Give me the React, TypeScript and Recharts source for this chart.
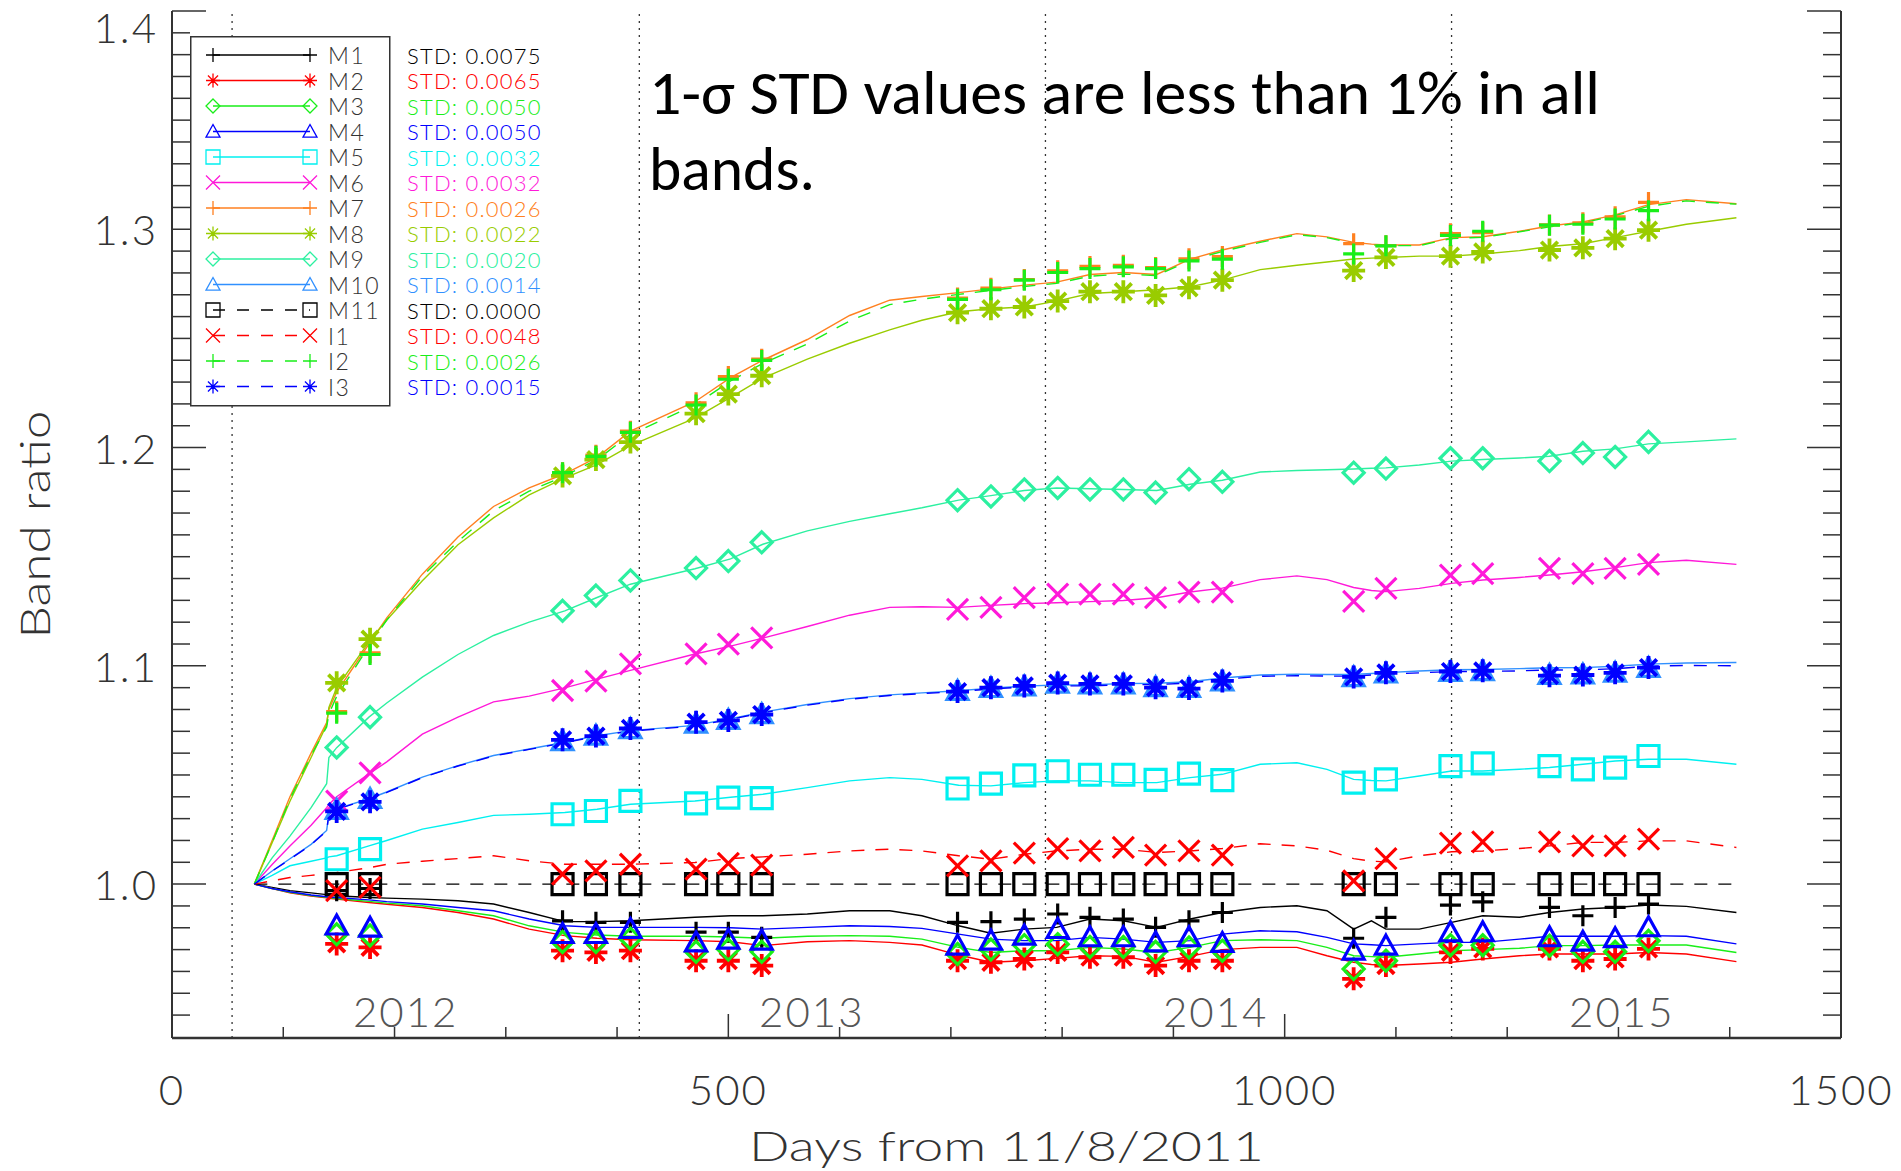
import React from 'react'
import {
  ComposedChart, Line, Scatter, XAxis, YAxis, ReferenceLine, Legend, Label,
} from 'recharts'

const W = 1901
const H = 1171

const FONT = "Lato, 'DejaVu Sans', sans-serif"
const INK = '#333333'

// days (from 11/8/2011) at which each band trend is sampled
const lineDays = [
  74, 90, 106, 125, 139, 141, 148,
  177, 193, 225, 257, 289, 321, 353,
  382, 412, 470, 502, 531, 571, 609,
  645, 674, 707, 736, 766, 795, 825,
  855, 885, 915, 944, 978, 1011, 1038,
  1062, 1078, 1091, 1121, 1150, 1178, 1211,
  1238, 1268, 1297, 1327, 1361, 1406,
]

const m1Line = [
  1.000, 0.9985, 0.997, 0.996, 0.9952, 0.995, 0.9947,
  0.9939, 0.9936, 0.9931, 0.9924, 0.9909, 0.987, 0.9828,
  0.9828, 0.9832, 0.9848, 0.9855, 0.9855, 0.9863, 0.9878,
  0.9878, 0.9855, 0.9809, 0.9775, 0.9794, 0.9802, 0.984,
  0.9832, 0.9802, 0.984, 0.987, 0.9893, 0.9901, 0.9878,
  0.9794, 0.9832, 0.9794, 0.9794, 0.9825, 0.9855, 0.9848,
  0.987, 0.9886, 0.9893, 0.9904, 0.9898, 0.987,
]
const m2Line = [
  1.000, 0.998, 0.996, 0.9945, 0.9937, 0.9935, 0.9931,
  0.9916, 0.9908, 0.9893, 0.987, 0.984, 0.9794, 0.9764,
  0.9752, 0.9745, 0.9741, 0.9736, 0.9718, 0.9736, 0.9741,
  0.9733, 0.9721, 0.9675, 0.9642, 0.9649, 0.966, 0.9672,
  0.9669, 0.9642, 0.9669, 0.970, 0.971, 0.971, 0.9672,
  0.9642, 0.9632, 0.9627, 0.9634, 0.9642, 0.9657, 0.9672,
  0.968, 0.968, 0.968, 0.9687, 0.968, 0.9645,
]
const m3Line = [
  1.000, 0.998, 0.9962, 0.9948, 0.994, 0.9938, 0.9934,
  0.9921, 0.9913, 0.9901, 0.9878, 0.9855, 0.9809, 0.9779,
  0.9767, 0.9761, 0.9761, 0.9758, 0.9752, 0.9761, 0.9764,
  0.9761, 0.9748, 0.971, 0.9687, 0.9695, 0.9695, 0.971,
  0.9703, 0.9687, 0.971, 0.9741, 0.9745, 0.9741, 0.971,
  0.9672, 0.9668, 0.9665, 0.968, 0.9695, 0.970, 0.9706,
  0.9718, 0.9718, 0.9721, 0.9721, 0.9721, 0.9687,
]
const m4Line = [
  1.000, 0.998, 0.9965, 0.995, 0.9942, 0.994, 0.9939,
  0.9928, 0.992, 0.9909, 0.9893, 0.9878, 0.984, 0.9809,
  0.9802, 0.9802, 0.9802, 0.980, 0.9794, 0.9802, 0.9809,
  0.9806, 0.9797, 0.9771, 0.9748, 0.9741, 0.9741, 0.9756,
  0.9748, 0.9733, 0.9741, 0.9771, 0.9786, 0.9782, 0.9756,
  0.9726, 0.9722, 0.9718, 0.9726, 0.9733, 0.9733, 0.9748,
  0.9761, 0.9761, 0.9761, 0.9764, 0.9761, 0.9726,
]
const m5Line = [
  1.000, 1.004, 1.0084, 1.0105, 1.012, 1.0125, 1.013,
  1.0175, 1.020, 1.0252, 1.0282, 1.0315, 1.032, 1.0328,
  1.0343, 1.0366, 1.0381, 1.0398, 1.0412, 1.0442, 1.0473,
  1.0488, 1.048, 1.0453, 1.045, 1.0465, 1.0473, 1.0473,
  1.0465, 1.0465, 1.0488, 1.0503, 1.0549, 1.0556, 1.0526,
  1.048, 1.0475, 1.0473, 1.0495, 1.0518, 1.0518, 1.0526,
  1.0534, 1.0549, 1.0564, 1.0572, 1.0572, 1.0549,
]
const m6Line = [
  1.000, 1.009, 1.0175, 1.027, 1.035, 1.0365, 1.040,
  1.0505, 1.056, 1.0687, 1.0765, 1.0835, 1.0861, 1.0899,
  1.0939, 1.0979, 1.1054, 1.109, 1.1127, 1.118, 1.1232,
  1.1268, 1.1271, 1.1268, 1.1277, 1.1285, 1.1289, 1.1294,
  1.1299, 1.1312, 1.1338, 1.1356, 1.1395, 1.1412, 1.1395,
  1.1359, 1.1345, 1.134, 1.1355, 1.1378, 1.1393, 1.1405,
  1.1416, 1.1431, 1.145, 1.1473, 1.1484, 1.1465,
]
const m7Line = [
  1.000, 1.020, 1.040, 1.060, 1.074, 1.080, 1.088,
  1.110, 1.122, 1.142, 1.159, 1.173, 1.1815, 1.188,
  1.1955, 1.2075, 1.221, 1.232, 1.240, 1.2495, 1.2605,
  1.2675, 1.2692, 1.271, 1.2727, 1.2744, 1.2758, 1.2793,
  1.2802, 1.2793, 1.2863, 1.2905, 1.2945, 1.298, 1.2965,
  1.294, 1.2932, 1.2928, 1.2928, 1.2962, 1.2966, 1.2991,
  1.3015, 1.3034, 1.3066, 1.3113, 1.3136, 1.3117,
]
const m8Line = [
  1.000, 1.019, 1.038, 1.058, 1.073, 1.081, 1.090,
  1.111, 1.121, 1.139, 1.1555, 1.1678, 1.1783, 1.1861,
  1.1922, 1.2009, 1.2135, 1.223, 1.2318, 1.2405, 1.2478,
  1.2539, 1.2583, 1.2622, 1.2636, 1.2644, 1.2671, 1.2706,
  1.2714, 1.2723, 1.2737, 1.2767, 1.2815, 1.2835, 1.285,
  1.2864, 1.2868, 1.2871, 1.2877, 1.2877, 1.2887, 1.2902,
  1.2921, 1.2934, 1.2962, 1.2991, 1.3023, 1.3053,
]
const m9Line = [
  1.000, 1.012, 1.022, 1.035, 1.046, 1.058, 1.0625,
  1.0765, 1.083, 1.0948, 1.1052, 1.1139, 1.120, 1.1252,
  1.1313, 1.1374, 1.1445, 1.149, 1.1557, 1.1618, 1.1662,
  1.1697, 1.1724, 1.1759, 1.178, 1.1803, 1.1815, 1.1811,
  1.1808, 1.1803, 1.1832, 1.185, 1.1888, 1.1895, 1.1898,
  1.1902, 1.1905, 1.1907, 1.192, 1.1938, 1.1945, 1.1952,
  1.196, 1.1983, 1.1994, 1.2017, 1.2026, 1.204,
]
const m10Line = [
  1.000, 1.006, 1.0116, 1.0182, 1.0246, 1.0322, 1.0345,
  1.0391, 1.0422, 1.049, 1.0543, 1.0589, 1.0619, 1.065,
  1.068, 1.0703, 1.0727, 1.0758, 1.0788, 1.0823, 1.085,
  1.0867, 1.0876, 1.0886, 1.0898, 1.0907, 1.0912, 1.0913,
  1.0919, 1.092, 1.0927, 1.0944, 1.0958, 1.0962, 1.096,
  1.096, 1.0965, 1.0969, 1.0976, 1.0982, 1.0983, 1.0987,
  1.0991, 1.0992, 1.0998, 1.1008, 1.1013, 1.1015,
]
// M11 is the reference band: flat at 1.0
const m11LineDays = [74, 1406]
const m11Line = [1.0, 1.0]
const i1Line = [
  1.000, 1.0015, 1.003, 1.004, 1.0048, 1.005, 1.0053,
  1.0075, 1.0091, 1.0105, 1.0117, 1.013, 1.0107, 1.0091,
  1.0091, 1.0091, 1.0099, 1.0117, 1.0125, 1.0137, 1.0152,
  1.016, 1.0152, 1.013, 1.0114, 1.0137, 1.0152, 1.016,
  1.016, 1.0145, 1.0152, 1.0163, 1.0185, 1.0175, 1.0155,
  1.0117, 1.0105, 1.0102, 1.013, 1.0148, 1.0152, 1.0163,
  1.0175, 1.0191, 1.0191, 1.0198, 1.0198, 1.0168,
]
const i2Line = [
  1.000, 1.019, 1.039, 1.059, 1.072, 1.078, 1.086,
  1.109, 1.121, 1.141, 1.157, 1.171, 1.180, 1.187,
  1.1945, 1.206, 1.2195, 1.2305, 1.2385, 1.2475, 1.258,
  1.2655, 1.268, 1.2702, 1.272, 1.2738, 1.2752, 1.2785,
  1.2795, 1.2788, 1.2858, 1.2898, 1.294, 1.2975, 1.2962,
  1.2936, 1.2928, 1.2925, 1.2925, 1.2958, 1.2963, 1.2988,
  1.3011, 1.303, 1.3062, 1.3105, 1.313, 1.3115,
]
const i3Line = [
  1.000, 1.006, 1.0114, 1.018, 1.0244, 1.032, 1.0343,
  1.0389, 1.042, 1.0488, 1.0541, 1.0587, 1.0617, 1.0648,
  1.0678, 1.0701, 1.0724, 1.0755, 1.0785, 1.082, 1.0847,
  1.0864, 1.0873, 1.0882, 1.0894, 1.0903, 1.0908, 1.0908,
  1.0914, 1.0914, 1.0921, 1.0938, 1.0952, 1.0955, 1.0953,
  1.0953, 1.0958, 1.0962, 1.0968, 1.0974, 1.0974, 1.0977,
  1.0981, 1.0981, 1.0987, 1.0998, 1.1002, 1.1000,
]

// lunar collection days and the ratio measured on each
const lunarDays = [
  148, 178, 351, 381, 412,
  471, 500, 530, 706, 736,
  766, 796, 825, 855, 884,
  914, 944, 1062, 1091, 1149,
  1178, 1238, 1268, 1297, 1327,
]
const m1Pts = [
  0.997, 0.998, 0.9832, 0.9825, 0.9825,
  0.978, 0.978, 0.9756, 0.9825, 0.9828,
  0.984, 0.9863, 0.9848, 0.984, 0.9802,
  0.9832, 0.987, 0.9752, 0.9848, 0.9904,
  0.9919, 0.9893, 0.9855, 0.9893, 0.9909,
]
const m2Pts = [
  0.9726, 0.971, 0.9695, 0.9687, 0.9695,
  0.9649, 0.9649, 0.9627, 0.9649, 0.9642,
  0.9657, 0.9687, 0.9665, 0.9665, 0.9627,
  0.9649, 0.9649, 0.9566, 0.9627, 0.9687,
  0.9703, 0.9703, 0.9649, 0.9657, 0.9703,
]
const m3Pts = [
  0.977, 0.9765, 0.9735, 0.9735, 0.975,
  0.969, 0.970, 0.969, 0.968, 0.970,
  0.972, 0.9725, 0.9712, 0.9712, 0.969,
  0.971, 0.9695, 0.9611, 0.9649, 0.972,
  0.972, 0.9718, 0.969, 0.969, 0.974,
]
const m4Pts = [
  0.981, 0.980, 0.9771, 0.9771, 0.9794,
  0.9733, 0.9745, 0.9741, 0.9718, 0.9741,
  0.9764, 0.9794, 0.9756, 0.9756, 0.9733,
  0.9756, 0.973, 0.9695, 0.9718, 0.9779,
  0.9779, 0.9756, 0.9736, 0.9752, 0.9802,
]
const m5Pts = [
  1.0114, 1.016, 1.032, 1.0335, 1.0381,
  1.037, 1.0396, 1.0394, 1.0438, 1.046,
  1.0498, 1.0517, 1.0501, 1.0501, 1.0478,
  1.0506, 1.0476, 1.0465, 1.048, 1.0541,
  1.0553, 1.0541, 1.0526, 1.0534, 1.0587,
]
const m6Pts = [
  1.038, 1.051, 1.0887, 1.093, 1.1009,
  1.1055, 1.110, 1.1128, 1.1259, 1.1268,
  1.1312, 1.1329, 1.1329, 1.1329, 1.1312,
  1.1338, 1.1338, 1.1295, 1.1355, 1.1416,
  1.1422, 1.1446, 1.1422, 1.1446, 1.1465,
]
const m7Pts = [
  1.079, 1.106, 1.1885, 1.1965, 1.2075,
  1.2205, 1.2325, 1.2405, 1.2685, 1.273,
  1.277, 1.281, 1.283, 1.2835, 1.2825,
  1.2865, 1.2875, 1.2934, 1.2925, 1.298,
  1.2985, 1.302, 1.303, 1.3057, 1.3123,
]
const m8Pts = [
  1.0922, 1.1122, 1.187, 1.1945, 1.2025,
  1.2155, 1.2245, 1.2329, 1.2618, 1.2636,
  1.2644, 1.2671, 1.2714, 1.2714, 1.2697,
  1.2732, 1.2767, 1.2811, 1.2871, 1.2877,
  1.2896, 1.2905, 1.2915, 1.2957, 1.2996,
]
const m9Pts = [
  1.0626, 1.0765, 1.1252, 1.1322, 1.1391,
  1.1448, 1.148, 1.1566, 1.1759, 1.1776,
  1.1808, 1.1815, 1.1808, 1.1808, 1.1794,
  1.1855, 1.1843, 1.1885, 1.1904, 1.1951,
  1.1951, 1.1938, 1.1975, 1.1957, 1.2026,
]
const m10Pts = [
  1.034, 1.039, 1.0655, 1.068, 1.071,
  1.0735, 1.0752, 1.0778, 1.0885, 1.0898,
  1.0905, 1.0918, 1.0915, 1.0915, 1.0902,
  1.0898, 1.0928, 1.0948, 1.0965, 1.0972,
  1.0975, 1.0958, 1.096, 1.0968, 1.099,
]
const m11Pts = [
  1.0, 1.0, 1.0, 1.0, 1.0,
  1.0, 1.0, 1.0, 1.0, 1.0,
  1.0, 1.0, 1.0, 1.0, 1.0,
  1.0, 1.0, 1.0, 1.0, 1.0,
  1.0, 1.0, 1.0, 1.0, 1.0,
]
const i1Pts = [
  0.997, 0.9985, 1.0046, 1.0061, 1.0091,
  1.0069, 1.0095, 1.0087, 1.0084, 1.0107,
  1.0142, 1.0163, 1.0152, 1.0168, 1.0133,
  1.0152, 1.0133, 1.0015, 1.0117, 1.0188,
  1.0194, 1.0194, 1.0175, 1.0175, 1.0206,
]
const i2Pts = [
  1.0783, 1.1052, 1.1885, 1.196, 1.207,
  1.2195, 1.2313, 1.2399, 1.2679, 1.2723,
  1.2767, 1.2802, 1.282, 1.2828, 1.282,
  1.2855, 1.2863, 1.2887, 1.2924, 1.2972,
  1.2991, 1.3019, 1.3023, 1.3047, 1.3085,
]
const i3Pts = [
  1.0333, 1.0377, 1.0661, 1.0678, 1.0713,
  1.0742, 1.075, 1.0777, 1.0882, 1.09,
  1.0908, 1.0921, 1.0917, 1.0917, 1.09,
  1.0896, 1.0931, 1.0949, 1.0968, 1.0974,
  1.0977, 1.0955, 1.0958, 1.0968, 1.0992,
]

const bandNames = ['M1', 'M2', 'M3', 'M4', 'M5', 'M6', 'M7', 'M8', 'M9', 'M10', 'M11', 'I1', 'I2', 'I3']
const stdValues = ['0.0075', '0.0065', '0.0050', '0.0050', '0.0032', '0.0032', '0.0026', '0.0022', '0.0020', '0.0014', '0.0000', '0.0048', '0.0026', '0.0015']

const yearLabels = ['2012', '2013', '2014', '2015']
const yearStartDays = [54, 420, 785, 1150]
const yearLabelDays = [210, 575, 938, 1303]
const xTickLabels = [0, 500, 1000, 1500]
const yTickLabels = [1.0, 1.1, 1.2, 1.3, 1.4]

type MarkKind = 'plus' | 'star' | 'diamond' | 'triangle' | 'square' | 'cross'

interface Band {
  name: string
  std: string
  color: string
  mark: MarkKind
  dashed: boolean
  days: number[]
  line: number[]
  pts: number[]
}

const styles: { color: string; mark: MarkKind; dashed: boolean }[] = [
  { color: '#000000', mark: 'plus', dashed: false },
  { color: '#ff0000', mark: 'star', dashed: false },
  { color: '#19ee19', mark: 'diamond', dashed: false },
  { color: '#0000ff', mark: 'triangle', dashed: false },
  { color: '#00f0f0', mark: 'square', dashed: false },
  { color: '#ff19d9', mark: 'cross', dashed: false },
  { color: '#ff8020', mark: 'plus', dashed: false },
  { color: '#99cc00', mark: 'star', dashed: false },
  { color: '#2cf0a0', mark: 'diamond', dashed: false },
  { color: '#3090ff', mark: 'triangle', dashed: false },
  { color: '#000000', mark: 'square', dashed: true },
  { color: '#ff0000', mark: 'cross', dashed: true },
  { color: '#19ee19', mark: 'plus', dashed: true },
  { color: '#0000ff', mark: 'star', dashed: true },
]

const lines = [m1Line, m2Line, m3Line, m4Line, m5Line, m6Line, m7Line, m8Line, m9Line, m10Line, m11Line, i1Line, i2Line, i3Line]
const points = [m1Pts, m2Pts, m3Pts, m4Pts, m5Pts, m6Pts, m7Pts, m8Pts, m9Pts, m10Pts, m11Pts, i1Pts, i2Pts, i3Pts]

const bands: Band[] = bandNames.map((name, i) => ({
  name,
  std: stdValues[i],
  ...styles[i],
  days: name === 'M11' ? m11LineDays : lineDays,
  line: lines[i],
  pts: points[i],
}))

const toRows = (days: number[], vals: number[]) => days.map((day, i) => ({ day, v: vals[i] }))

function markPath(kind: MarkKind, x: number, y: number, s: number) {
  switch (kind) {
    case 'plus':
      return `M${x - s},${y}H${x + s}M${x},${y - s}V${y + s}`
    case 'cross':
      return `M${x - s},${y - s}L${x + s},${y + s}M${x - s},${y + s}L${x + s},${y - s}`
    case 'star': {
      const k = s * 0.72
      return `M${x},${y - s}V${y + s}M${x - s},${y}H${x + s}M${x - k},${y - k}L${x + k},${y + k}M${x - k},${y + k}L${x + k},${y - k}`
    }
    case 'diamond':
      return `M${x},${y - s}L${x + s},${y}L${x},${y + s}L${x - s},${y}Z`
    case 'triangle':
      return `M${x},${y - s}L${x + s},${y + s * 0.8}L${x - s},${y + s * 0.8}Z`
    case 'square':
      return `M${x - s},${y - s}H${x + s}V${y + s}H${x - s}Z`
  }
}

// asterisks read heavier than the other symbols
const markSize = (kind: MarkKind) => (kind === 'star' ? 11.5 : 10.5)
const markWidth = (kind: MarkKind) => (kind === 'star' ? 3.8 : 3.2)

// y ticks every 0.01, majors every 0.1
const yTicks: number[] = []
for (let i = 0; i <= 46; i++) yTicks.push(Math.round((0.94 + i * 0.01) * 100) / 100)
const isMajorY = (v: number) => Math.round(v * 100) % 10 === 0

// x ticks every 100 days, majors every 500
const xTicks: number[] = []
for (let d = 0; d <= 1500; d += 100) xTicks.push(d)
const isMajorX = (d: number) => d % 500 === 0

const tickText = {
  fontFamily: FONT,
  fontWeight: 300,
  fontSize: 42,
  letterSpacing: 2,
  fill: INK,
}

function LeftTick(props: any) {
  const { x, y, payload } = props
  const v = payload.value as number
  const major = isMajorY(v)
  const label = yTickLabels.find(t => Math.abs(t - v) < 1e-6)
  return (
    <g>
      <line x1={x} x2={x + (major ? 34 : 18)} y1={y} y2={y} stroke={INK} strokeWidth={1.5} />
      {label !== undefined && (
        <text x={x - 14} y={y + (v > 1.39 ? 16 : 0)} textAnchor="end" dominantBaseline="central" {...tickText}>
          {label.toFixed(1)}
        </text>
      )}
    </g>
  )
}

function RightTick(props: any) {
  const { x, y, payload } = props
  const major = isMajorY(payload.value)
  return <line x1={x} x2={x - (major ? 34 : 18)} y1={y} y2={y} stroke={INK} strokeWidth={1.5} />
}

function BottomTick(props: any) {
  const { x, y, payload } = props
  const d = payload.value as number
  const yi = yearLabelDays.indexOf(d)
  if (yi >= 0) {
    return (
      <text x={x} y={y - 27} textAnchor="middle" dominantBaseline="central" {...tickText} fill="#555">
        {yearLabels[yi]}
      </text>
    )
  }
  const major = isMajorX(d)
  return (
    <g>
      <line x1={x} x2={x} y1={y} y2={y - (major ? 24 : 11)} stroke={INK} strokeWidth={1.5} />
      {xTickLabels.includes(d) && (
        <text x={x} y={y + 51} textAnchor="middle" dominantBaseline="central" {...tickText}>
          {d}
        </text>
      )}
    </g>
  )
}

function TopTick(props: any) {
  const { x, y, payload } = props
  const major = isMajorX(payload.value)
  return <line x1={x} x2={x} y1={y} y2={y + (major ? 24 : 11)} stroke={INK} strokeWidth={1.5} />
}

function LegendBox() {
  return (
    <svg width={380} height={372}>
      <rect x={0.75} y={0.75} width={199} height={369} fill="#fff" stroke={INK} strokeWidth={1.5} />
      {bands.map((b, i) => {
        const y = 19 + i * 25.5
        return (
          <g key={b.name}>
            <line x1={23} x2={120} y1={y} y2={y} stroke={b.color} strokeWidth={1.3}
              strokeDasharray={b.dashed ? '12 12' : undefined} />
            <path d={markPath(b.mark, 23, y, 7) + markPath(b.mark, 120, y, 7)} stroke={b.color}
              strokeWidth={1.3} fill="none" />
            <text x={138} y={y} dominantBaseline="central" fontFamily={FONT} fontWeight={300}
              fontSize={23} letterSpacing={1.5} fill={INK}>{b.name}</text>
            <text x={217} y={y} dominantBaseline="central" fontFamily={FONT} fontWeight={300}
              fontSize={22} letterSpacing={1.2} fill={b.color}>STD: {b.std}</text>
          </g>
        )
      })}
    </svg>
  )
}

export default function App() {
  return (
    <div style={{ position: 'fixed', left: 0, top: 0, width: W, height: H, background: '#fff' }}>
      <ComposedChart width={W} height={H} margin={{ top: 11, right: 0, bottom: 0, left: 0 }}>
        <XAxis xAxisId="b" type="number" dataKey="day" domain={[0, 1500]} allowDataOverflow
          ticks={[...xTicks, ...yearLabelDays]} interval={0} height={133}
          tickSize={0} tickMargin={0} tickLine={false} tick={BottomTick}
          axisLine={{ stroke: INK, strokeWidth: 2.5 }}>
          <Label content={(p: any) => {
            const vb = p.viewBox
            return (
              <text x={vb.x + vb.width / 2} y={vb.y + 107} textAnchor="middle" dominantBaseline="central"
                fontFamily={FONT} fontWeight={300} fontSize={42} fill={INK} textLength={515}
                lengthAdjust="spacingAndGlyphs">Days from 11/8/2011</text>
            )
          }} />
        </XAxis>
        <XAxis xAxisId="t" orientation="top" type="number" dataKey="day" domain={[0, 1500]} allowDataOverflow
          ticks={xTicks} interval={0} height={0} tickSize={0} tickMargin={0} tickLine={false}
          tick={TopTick} axisLine={{ stroke: INK, strokeWidth: 2 }} />
        <YAxis yAxisId="l" type="number" dataKey="v" domain={[0.9295, 1.4]} allowDataOverflow
          ticks={yTicks} interval={0} width={172} tickSize={0} tickMargin={0} tickLine={false}
          tick={LeftTick} axisLine={{ stroke: INK, strokeWidth: 2 }}>
          <Label content={(p: any) => {
            const vb = p.viewBox
            const cx = 34
            const cy = vb.y + vb.height / 2
            return (
              <text x={cx} y={cy} transform={`rotate(-90 ${cx} ${cy})`} textAnchor="middle"
                dominantBaseline="central" fontFamily={FONT} fontWeight={300} fontSize={42} fill={INK}
                textLength={228} lengthAdjust="spacingAndGlyphs">Band ratio</text>
            )
          }} />
        </YAxis>
        <YAxis yAxisId="r" orientation="right" type="number" dataKey="v" domain={[0.9295, 1.4]} allowDataOverflow
          ticks={yTicks} interval={0} width={60} tickSize={0} tickMargin={0} tickLine={false}
          tick={RightTick} axisLine={{ stroke: INK, strokeWidth: 2 }} />

        {yearStartDays.map(d => (
          <ReferenceLine key={d} x={d} xAxisId="b" yAxisId="l" stroke={INK} strokeWidth={1.3}
            strokeDasharray="2 5" />
        ))}

        {bands.map(b => (
          <Line key={`line-${b.name}`} xAxisId="b" yAxisId="l" data={toRows(b.days, b.line)} dataKey="v"
            type="linear" stroke={b.color} strokeWidth={1.4} dot={false} activeDot={false}
            strokeDasharray={b.dashed ? '13 11' : undefined} isAnimationActive={false} />
        ))}
        {bands.map(b => (
          <Scatter key={`pts-${b.name}`} xAxisId="b" yAxisId="l" data={toRows(lunarDays, b.pts)} dataKey="v"
            isAnimationActive={false}
            shape={(p: any) => (
              <path d={markPath(b.mark, p.cx, p.cy, markSize(b.mark))} stroke={b.color}
                strokeWidth={markWidth(b.mark)} fill="none" strokeLinejoin="miter" />
            )} />
        ))}

        <Legend layout="vertical" align="center" verticalAlign="middle" content={() => <LegendBox />}
          wrapperStyle={{ left: 190, top: 36, width: 380, height: 372 }} />
      </ComposedChart>
      <svg width={W} height={H} style={{ position: 'absolute', left: 0, top: 0, pointerEvents: 'none' }}>
        <text x={649} y={114} fontFamily="Carlito, Calibri, Lato, sans-serif" fontSize={62} fill="#000"
          textLength={951} lengthAdjust="spacingAndGlyphs">1-σ STD values are less than 1% in all</text>
        <text x={649} y={190} fontFamily="Carlito, Calibri, Lato, sans-serif" fontSize={62} fill="#000"
          textLength={166} lengthAdjust="spacingAndGlyphs">bands.</text>
      </svg>
    </div>
  )
}
